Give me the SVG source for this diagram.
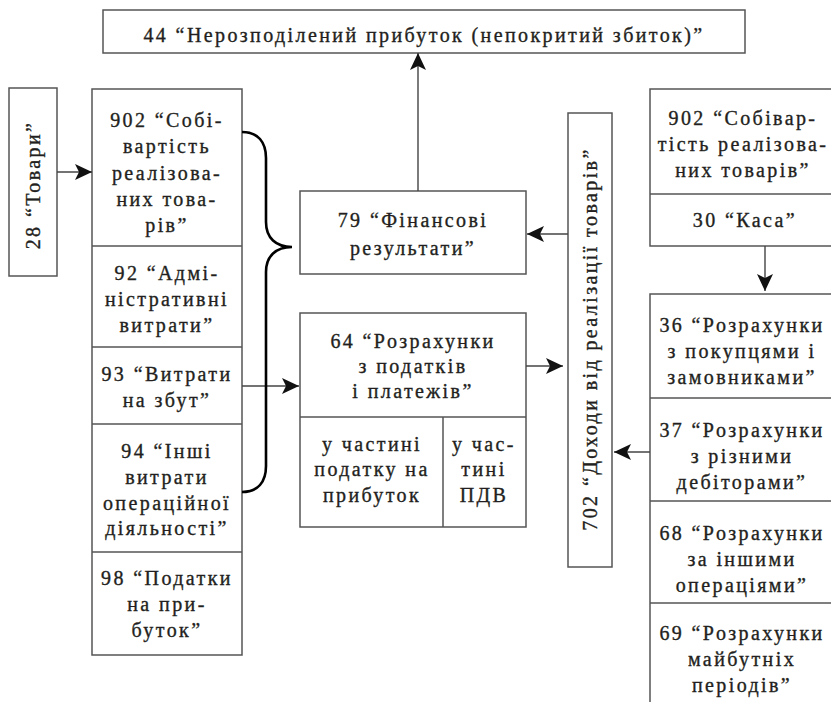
<svg xmlns="http://www.w3.org/2000/svg" width="831" height="702" viewBox="0 0 831 702">
<defs>
<marker id="ah" viewBox="0 0 17 16" refX="17" refY="8" markerWidth="17" markerHeight="16" markerUnits="userSpaceOnUse" orient="auto">
<path d="M0,0 L17,8 L0,16 L4,8 Z" fill="#111"/>
</marker>
<style>
.bx{fill:#fff;stroke:#555;stroke-width:1.5}
.ln{fill:none;stroke:#555;stroke-width:1.5}
.t{font-family:"Liberation Serif","Times New Roman",serif;font-size:20px;letter-spacing:2.4px;fill:#231f20;stroke:#231f20;stroke-width:0.35;text-anchor:middle}
.ar{fill:none;stroke:#444;stroke-width:1.4;marker-end:url(#ah)}
.br{fill:none;stroke:#000;stroke-width:2.6}
</style>
</defs>
<rect width="831" height="702" fill="#fff"/>

<g id="n44">
<rect class="bx" x="103" y="10" width="642" height="43"/>
<text class="t" x="424" y="42">44 “Нерозподілений прибуток (непокритий збиток)”</text>
</g>

<g id="n28">
<rect class="bx" x="9" y="88" width="48" height="188"/>
<text class="t" transform="translate(33,185) rotate(-90)" x="0" y="7">28 “Товари”</text>
</g>

<g id="left-column">
<rect class="bx" x="92" y="89" width="150" height="566"/>
<path class="ln" d="M92,246 H242 M92,347 H242 M92,424 H242 M92,552 H242"/>
<g id="n902a">
<text class="t" x="167" y="127">902 “Собі-</text>
<text class="t" x="167" y="153">вартість</text>
<text class="t" x="167" y="180">реалізова-</text>
<text class="t" x="167" y="206">них това-</text>
<text class="t" x="167" y="232">рів”</text>
</g>
<g id="n92">
<text class="t" x="167" y="280">92 “Адмі-</text>
<text class="t" x="167" y="306">ністративні</text>
<text class="t" x="167" y="332">витрати”</text>
</g>
<g id="n93">
<text class="t" x="167" y="381">93 “Витрати</text>
<text class="t" x="167" y="407">на збут”</text>
</g>
<g id="n94">
<text class="t" x="167" y="458">94 “Інші</text>
<text class="t" x="167" y="484">витрати</text>
<text class="t" x="167" y="510">операційної</text>
<text class="t" x="167" y="535">діяльності”</text>
</g>
<g id="n98">
<text class="t" x="167" y="585">98 “Податки</text>
<text class="t" x="167" y="611">на при-</text>
<text class="t" x="167" y="637">буток”</text>
</g>
</g>

<g id="n79">
<rect class="bx" x="300" y="191" width="226" height="83"/>
<text class="t" x="413" y="227">79 “Фінансові</text>
<text class="t" x="413" y="255">результати”</text>
</g>

<g id="n64">
<rect class="bx" x="300" y="313" width="226" height="214"/>
<path class="ln" d="M300,417 H526 M443,417 V527"/>
<text class="t" x="413" y="348">64 “Розрахунки</text>
<text class="t" x="413" y="373">з податків</text>
<text class="t" x="413" y="398">і платежів”</text>
<text class="t" x="372" y="451">у частині</text>
<text class="t" x="372" y="476">податку на</text>
<text class="t" x="372" y="502">прибуток</text>
<text class="t" x="484" y="451">у час-</text>
<text class="t" x="484" y="476">тині</text>
<text class="t" x="484" y="502">ПДВ</text>
</g>

<g id="n702">
<rect class="bx" x="568" y="113" width="44" height="454"/>
<text class="t" transform="translate(590,339) rotate(-90)" x="0" y="7">702 “Доходи від реалізації товарів”</text>
</g>

<g id="right-top">
<rect class="bx" x="650" y="89" width="200" height="157"/>
<path class="ln" d="M650,194 H850"/>
<g id="n902b">
<text class="t" x="743" y="125">902 “Собівар-</text>
<text class="t" x="743" y="151">тість реалізова-</text>
<text class="t" x="743" y="177">них товарів”</text>
</g>
<g id="n30">
<text class="t" x="745" y="227">30 “Каса”</text>
</g>
</g>

<g id="right-column">
<path class="ln" d="M850,294 H650 V702 M650,398 H850 M650,501 H850 M650,603 H850"/>
<g id="n36">
<text class="t" x="742" y="332">36 “Розрахунки</text>
<text class="t" x="742" y="358">з покупцями і</text>
<text class="t" x="742" y="384">замовниками”</text>
</g>
<g id="n37">
<text class="t" x="742" y="437">37 “Розрахунки</text>
<text class="t" x="742" y="463">з різними</text>
<text class="t" x="742" y="489">дебіторами”</text>
</g>
<g id="n68">
<text class="t" x="742" y="540">68 “Розрахунки</text>
<text class="t" x="742" y="566">за іншими</text>
<text class="t" x="742" y="592">операціями”</text>
</g>
<g id="n69">
<text class="t" x="742" y="640">69 “Розрахунки</text>
<text class="t" x="742" y="666">майбутніх</text>
<text class="t" x="742" y="692">періодів”</text>
</g>
</g>

<g id="connectors">
<line class="ar" x1="57" y1="172" x2="92" y2="172"/>
<line class="ar" x1="418" y1="191" x2="418" y2="53"/>
<line class="ar" x1="568" y1="234" x2="527" y2="234"/>
<line class="ar" x1="242" y1="386" x2="299" y2="386"/>
<line class="ar" x1="526" y1="366" x2="563" y2="366"/>
<line class="ar" x1="765" y1="246" x2="765" y2="291"/>
<line class="ar" x1="650" y1="452" x2="614" y2="452"/>
<path class="br" d="M242,132 C258,132 266,142 266,158 L266,222 C266,238 276,247 292,247 C276,247 266,256 266,272 L266,466 C266,482 258,492 242,492"/>
</g>
</svg>
